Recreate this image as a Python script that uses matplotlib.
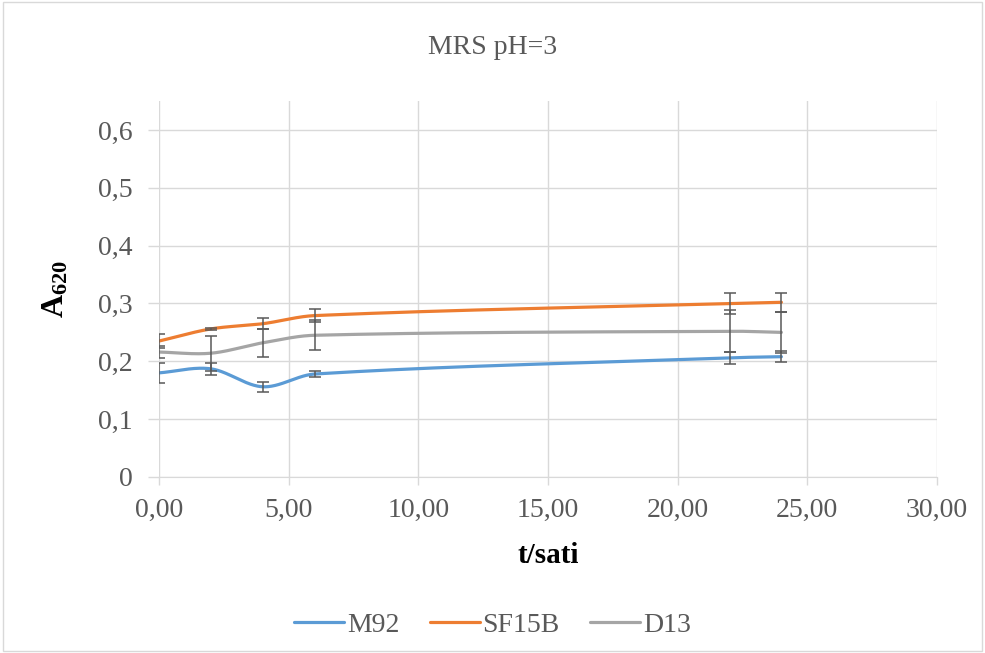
import numpy as np
import matplotlib
matplotlib.use("Agg")
import matplotlib.pyplot as plt
from matplotlib.ticker import FuncFormatter

plt.rcParams['font.family'] = ['Liberation Serif', 'DejaVu Serif']
plt.rcParams['mathtext.fontset'] = 'custom'
plt.rcParams['mathtext.rm'] = 'Liberation Serif'
plt.rcParams['mathtext.bf'] = 'Liberation Serif:bold'

t = [0, 2, 4, 6, 22, 24]
m92 = [0.180, 0.187, 0.156, 0.178, 0.206, 0.208]
m92_err = [0.017, 0.010, 0.009, 0.005, 0.010, 0.009]
sf15b = [0.235, 0.256, 0.265, 0.279, 0.300, 0.302]
sf15b_err = [0.012, 0.002, 0.010, 0.011, 0.018, 0.016]
d13 = [0.216, 0.214, 0.232, 0.245, 0.252, 0.250]
d13_err = [0.010, 0.030, 0.024, 0.026, 0.036, 0.035]

names = ['M92', 'SF15B', 'D13']
colors = ['#5b9bd5', '#ed7d31', '#a5a5a5']


def smooth(x, y, n=60):
    # cubic hermite in x, tangents from neighbours (looks like excel smoothing)
    x = np.asarray(x, float)
    y = np.asarray(y, float)
    m = np.zeros_like(y)
    m[1:-1] = (y[2:] - y[:-2]) / (x[2:] - x[:-2])
    m[0] = (y[1] - y[0]) / (x[1] - x[0])
    m[-1] = (y[-1] - y[-2]) / (x[-1] - x[-2])
    xs, ys = [], []
    for i in range(len(x) - 1):
        h = x[i + 1] - x[i]
        s = np.linspace(0, 1, n)
        h00 = 2 * s ** 3 - 3 * s ** 2 + 1
        h10 = s ** 3 - 2 * s ** 2 + s
        h01 = -2 * s ** 3 + 3 * s ** 2
        h11 = s ** 3 - s ** 2
        xs.extend(x[i] + s * h)
        ys.extend(h00 * y[i] + h10 * h * m[i] + h01 * y[i + 1] + h11 * h * m[i + 1])
    return np.array(xs), np.array(ys)


fig = plt.figure(figsize=(9.85, 6.53), dpi=100)
ax = fig.add_axes([159 / 985, 1 - 477 / 653, (937 - 159) / 985, (477 - 101) / 653])

for ys, es, name, c in zip([m92, sf15b, d13], [m92_err, sf15b_err, d13_err], names, colors):
    sx, sy = smooth(t, ys)
    ax.plot(sx, sy, color=c, lw=2.3, label=name, zorder=3, solid_capstyle='round')
    ax.errorbar(t, ys, yerr=es, fmt='none', ecolor='#595959', elinewidth=1.1,
                capsize=4, capthick=1.1, zorder=4)

ax.set_xlim(0, 30)
ax.set_ylim(0, 0.65)
ax.set_xticks(np.arange(0, 31, 5))
ax.set_yticks(np.arange(0, 0.61, 0.1))
ax.xaxis.set_major_formatter(FuncFormatter(lambda v, p: f"{v:.2f}".replace('.', ',')))
ax.yaxis.set_major_formatter(FuncFormatter(lambda v, p: '0' if abs(v) < 1e-9 else f"{v:.1f}".replace('.', ',')))
ax.grid(True, color='#d9d9d9', lw=1)
ax.set_axisbelow(True)
for s in ['top', 'right', 'left']:
    ax.spines[s].set_visible(False)
ax.spines['bottom'].set_color('#d9d9d9')
ax.tick_params(axis='x', length=6, width=1, color='#d9d9d9', labelsize=20,
               labelcolor='#595959', pad=9)
ax.tick_params(axis='y', length=8, width=1, color='#d9d9d9', labelsize=20,
               labelcolor='#595959', pad=11)

ax.set_xlabel('t/sati', fontsize=21, fontweight='bold', labelpad=14)
ax.set_ylabel('$\\mathbf{A_{620}}$', fontsize=23, labelpad=20)

fig.text(0.5, 1 - 47 / 653, 'MRS pH=3', ha='center', va='center', fontsize=20, color='#595959')

fig.legend(loc='center', bbox_to_anchor=(0.5, 1 - 625 / 653), ncol=3, frameon=False,
           fontsize=20, handlelength=1.8, handletextpad=0.1, columnspacing=1.1,
           labelcolor='#595959')

fig.patches.append(plt.Rectangle((0.003, 0.003), 0.994, 0.994, transform=fig.transFigure,
                                 fill=False, edgecolor='#d9d9d9', lw=1))

fig.savefig('out.png', dpi=100)
